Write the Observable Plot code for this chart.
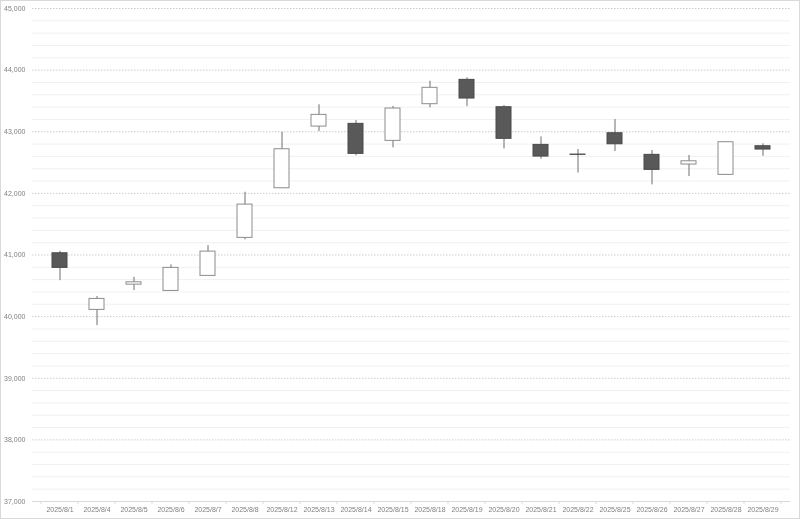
<!DOCTYPE html>
<html>
<head>
<meta charset="utf-8">
<script src="https://cdn.jsdelivr.net/npm/d3@7"></script>
<script src="https://cdn.jsdelivr.net/npm/@observablehq/plot@0.6"></script>
<style>
  html, body { margin: 0; padding: 0; background: #fff; }
  #chart svg { display: block; outline: 1px solid #d9d9d9; outline-offset: -1px; will-change: transform; }
</style>
</head>
<body>
<div id="chart"></div>
<script>
const dates = ["2025/8/1","2025/8/4","2025/8/5","2025/8/6","2025/8/7","2025/8/8","2025/8/12","2025/8/13","2025/8/14","2025/8/15","2025/8/18","2025/8/19","2025/8/20","2025/8/21","2025/8/22","2025/8/25","2025/8/26","2025/8/27","2025/8/28","2025/8/29"];
const open  = [41028, 40109, 40519, 40417, 40661, 41278, 42083, 43084, 43128, 42852, 43447, 43842, 43398, 42787, 42630, 42976, 42625, 42468, 42300, 42765];
const high  = [41060, 40325, 40638, 40839, 41153, 42018, 42992, 43437, 43182, 43409, 43820, 43875, 43425, 42917, 42711, 43198, 42695, 42614, 42830, 42804];
const low   = [40584, 39854, 40422, 40410, 40661, 41245, 42083, 43003, 42609, 42739, 43388, 43409, 42722, 42554, 42330, 42679, 42138, 42273, 42300, 42602];
const close = [40791, 40287, 40557, 40791, 41055, 41818, 42716, 43274, 42641, 43377, 43713, 43539, 42885, 42597, 42625, 42797, 42381, 42521, 42830, 42711];
const majorTicks = [37000, 38000, 39000, 40000, 41000, 42000, 43000, 44000, 45000];
const minorTicks = d3.range(37200, 45000, 200).filter(v => v % 1000 !== 0);

const data = dates.map((d, i) => ({date: d, open: open[i], high: high[i], low: low[i], close: close[i], up: close[i] >= open[i]}));

const chart = Plot.plot({
  width: 800,
  height: 519,
  marginLeft: 32,
  marginRight: 10,
  marginTop: 8,
  marginBottom: 18,
  style: {fontFamily: "'Liberation Sans', Arial, sans-serif", fontSize: "7px", color: "#808080", background: "#fff"},
  x: {domain: dates, padding: 0, label: null},
  y: {domain: [37000, 45000], label: null},
  marks: [
    Plot.ruleY(minorTicks, {stroke: "#f0f0f0"}),
    Plot.ruleY(majorTicks, {stroke: "#cccccc", strokeDasharray: "1.5,1.5"}),
    Plot.axisY({ticks: majorTicks, tickFormat: d3.format(","), tickSize: 0, tickPadding: 7, fill: "#808080"}),
    Plot.axisX({tickSize: 0, tickPadding: 6, fill: "#808080"}),
    Plot.ruleY([37000], {stroke: "#d9d9d9"}),
    Plot.ruleX(data, {x: "date", y1: "low", y2: "high", stroke: "#6e6e6e", strokeWidth: 1}),
    Plot.barY(data, {x: "date", y1: "open", y2: "close", insetLeft: 11, insetRight: 11,
      fill: d => d.up ? "#ffffff" : "#595959",
      stroke: d => d.up ? "#8c8c8c" : "#4a4a4a", strokeWidth: 1})
  ]
});
document.getElementById("chart").append(chart);

// band-boundary tick marks under the axis line, placed with the x scale
const xs = chart.scale("x");
const ys = chart.scale("y");
const svg = d3.select(chart);
const edges = dates.map(d => xs.apply(d)).concat([xs.apply(dates[dates.length-1]) + xs.bandwidth]);
svg.append("g").selectAll("line").data(edges).join("line")
  .attr("x1", d => d).attr("x2", d => d)
  .attr("y1", ys.apply(37000)).attr("y2", ys.apply(37000) + 3)
  .attr("stroke", "#d9d9d9");
</script>
</body>
</html>
